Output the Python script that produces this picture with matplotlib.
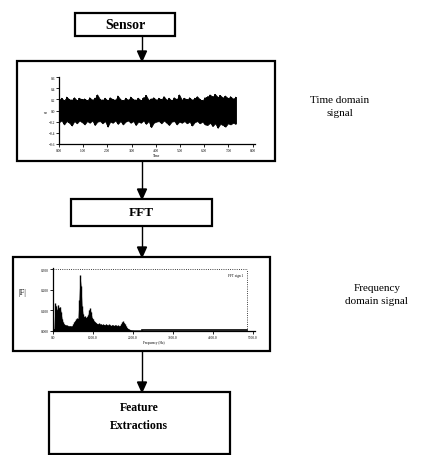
import matplotlib
matplotlib.use("Agg")
import matplotlib.pyplot as plt
from matplotlib.patches import Rectangle, Polygon
import numpy as np

plt.rcParams['font.family'] = ['Liberation Serif', 'DejaVu Serif']

W, H = 427, 456

# flowchart labels
box_labels = ["Sensor", "FFT", "Feature\nExtractions"]
side_labels = ["Time domain\nsignal", "Frequency\ndomain signal"]

# time domain signal: upper / lower envelope
sig_upper = [0.20, 0.22, 0.18, 0.24, 0.20, 0.19, 0.23, 0.18, 0.22, 0.20,
             0.21, 0.18, 0.23, 0.19, 0.22, 0.28, 0.20, 0.19, 0.22, 0.18,
             0.23, 0.20, 0.19, 0.26, 0.20, 0.18, 0.22, 0.19, 0.24, 0.20,
             0.19, 0.22, 0.18, 0.23, 0.27, 0.19, 0.21, 0.23, 0.19, 0.22,
             0.20, 0.25, 0.19, 0.22, 0.18, 0.23, 0.20, 0.28, 0.19, 0.22,
             0.20, 0.23, 0.19, 0.22, 0.25, 0.20, 0.18, 0.23, 0.25, 0.28,
             0.25, 0.29, 0.24, 0.27, 0.23, 0.26, 0.22, 0.25, 0.21, 0.24]
sig_lower = [-0.21, -0.18, -0.25, -0.19, -0.22, -0.27, -0.19, -0.23, -0.18, -0.21,
             -0.25, -0.19, -0.22, -0.18, -0.26, -0.20, -0.19, -0.23, -0.19, -0.29,
             -0.20, -0.22, -0.18, -0.24, -0.19, -0.25, -0.20, -0.18, -0.22, -0.19,
             -0.26, -0.20, -0.22, -0.18, -0.24, -0.19, -0.30, -0.22, -0.20, -0.19,
             -0.23, -0.18, -0.22, -0.26, -0.20, -0.19, -0.25, -0.20, -0.22, -0.19,
             -0.23, -0.20, -0.27, -0.21, -0.19, -0.23, -0.20, -0.25, -0.26, -0.22,
             -0.28, -0.23, -0.31, -0.24, -0.26, -0.29, -0.23, -0.25, -0.22, -0.24]
t_end = 7.3
time_yticks = [-0.6, -0.4, -0.2, 0.0, 0.2, 0.4, 0.6]
time_xticks = [0, 1, 2, 3, 4, 5, 6, 7, 8]

# FFT magnitude, 25 Hz bins from 0 Hz
fft_step = 25
fft_amp = [0.010, 0.012, 0.135, 0.120, 0.100, 0.128, 0.110, 0.118, 0.090, 0.060,
           0.042, 0.034, 0.030, 0.028, 0.027, 0.025, 0.024, 0.025, 0.023, 0.024,
           0.032, 0.042, 0.050, 0.056, 0.062, 0.060, 0.150, 0.270, 0.220, 0.120,
           0.082, 0.068, 0.072, 0.064, 0.070, 0.078, 0.100, 0.110, 0.090, 0.065,
           0.058, 0.048, 0.044, 0.040, 0.036, 0.034, 0.038, 0.032, 0.034, 0.030,
           0.033, 0.031, 0.029, 0.034, 0.030, 0.028, 0.032, 0.029, 0.026, 0.030,
           0.028, 0.026, 0.029, 0.027, 0.025, 0.028, 0.024, 0.026, 0.034, 0.042,
           0.046, 0.040, 0.032, 0.022, 0.016, 0.012, 0.008, 0.006, 0.005, 0.004,
           0.004, 0.003, 0.003, 0.003, 0.003, 0.003, 0.003, 0.003, 0.003, 0.003]
fft_data_end = 4850
fft_yticks = [0.0, 0.1, 0.2, 0.3]
fft_xticks = [0, 1000, 2000, 3000, 4000, 5000]

fig = plt.figure(figsize=(W / 100, H / 100), dpi=100)
fig.patch.set_facecolor('white')

# canvas in pixel units
ax = fig.add_axes([0, 0, 1, 1])
ax.set_xlim(0, W)
ax.set_ylim(H, 0)
ax.axis('off')


def box(x0, y0, x1, y1, lw=1.6):
    ax.add_patch(Rectangle((x0, y0), x1 - x0, y1 - y0, fill=False,
                           edgecolor='black', linewidth=lw, zorder=3))


def arrow(x, y0, y1):
    ax.plot([x, x], [y0, y1 - 9], color='black', linewidth=1.0, zorder=3)
    ax.add_patch(Polygon([[x - 4.5, y1 - 10], [x + 4.5, y1 - 10], [x, y1]],
                         closed=True, facecolor='black', edgecolor='black', zorder=3))


box(75, 14, 175, 37)
ax.text(125, 25.5, box_labels[0], ha='center', va='center', fontsize=10, fontweight='bold')
arrow(142, 37, 62)

box(17, 62, 275, 162)
arrow(142, 162, 200)

box(71, 200, 212, 227)
ax.text(141, 213.5, box_labels[1], ha='center', va='center', fontsize=9.5, fontweight='bold')
arrow(142, 227, 258)

box(13, 258, 270, 352)
arrow(142, 352, 393)

box(49, 393, 230, 455)
ax.text(139, 417, box_labels[2], ha='center', va='center', fontsize=8.5,
        fontweight='bold', linespacing=1.6)

ax.text(340, 107, side_labels[0], ha='center', va='center', fontsize=8, linespacing=1.5)
ax.text(377, 295, side_labels[1], ha='center', va='center', fontsize=8, linespacing=1.5)


def px_axes(x0, y0, x1, y1):
    return fig.add_axes([x0 / W, (H - y1) / H, (x1 - x0) / W, (y1 - y0) / H])


tick_kw = dict(labelsize=2.5, length=2, width=0.6, pad=1)

# time domain panel
ta = px_axes(59, 78, 255, 145)
t = np.linspace(0, t_end, len(sig_upper))
ta.fill_between(t, sig_lower, sig_upper, color='black', linewidth=0.5)
ta.vlines(t, sig_lower, sig_upper, color='black', linewidth=1.2)
zig_t = np.repeat(t, 2)
zig_v = np.ravel(np.column_stack([sig_upper, sig_lower]))
ta.plot(zig_t, zig_v, color='black', linewidth=0.6)
ta.set_xlim(0, 8.1)
ta.set_ylim(-0.6, 0.6)
ta.set_yticks(time_yticks)
ta.set_xticks(time_xticks)
ta.set_xticklabels(["%.2f" % v for v in time_xticks])
ta.tick_params(**tick_kw)
for s in ['top', 'right']:
    ta.spines[s].set_visible(False)
for s in ['left', 'bottom']:
    ta.spines[s].set_linewidth(0.9)
ta.set_xlabel("Time", fontsize=2.5, labelpad=0.5)
ta.set_ylabel("g", fontsize=3, labelpad=0.5)
ta.patch.set_alpha(0)

# frequency domain panel
fa = px_axes(53, 269, 255, 332)
freqs = np.arange(len(fft_amp)) * fft_step
fa.vlines(freqs, 0, fft_amp, color='black', linewidth=1.0)
fa.fill_between(freqs, 0, fft_amp, color='black', linewidth=0)
fa.plot([freqs[-1], fft_data_end], [0.003, 0.003], color='black', linewidth=1.2)
fa.plot([0, fft_data_end], [0.3, 0.3], color='black', linewidth=0.6, linestyle=':')
fa.plot([fft_data_end, fft_data_end], [0, 0.3], color='black', linewidth=0.6, linestyle=':')
fa.set_xlim(0, 5050)
fa.set_ylim(0, 0.305)
fa.set_yticks(fft_yticks)
fa.set_yticklabels(["%.3f" % v for v in fft_yticks])
fa.set_xticks(fft_xticks)
fa.set_xticklabels(["%.1f" % v for v in fft_xticks])
fa.tick_params(**tick_kw)
for s in ['top', 'right']:
    fa.spines[s].set_visible(False)
for s in ['left', 'bottom']:
    fa.spines[s].set_linewidth(0.9)
fa.set_xlabel("Frequency (Hz)", fontsize=2.5, labelpad=0.5)
fa.text(-0.15, 0.62, "|F|", fontsize=6, ha='center', va='center',
        transform=fa.transAxes)
fa.text(4750, 0.28, "FFT sign 1", fontsize=2.5, ha='right', va='top')
fa.patch.set_alpha(0)

fig.savefig("out.png", dpi=100, facecolor='white')
